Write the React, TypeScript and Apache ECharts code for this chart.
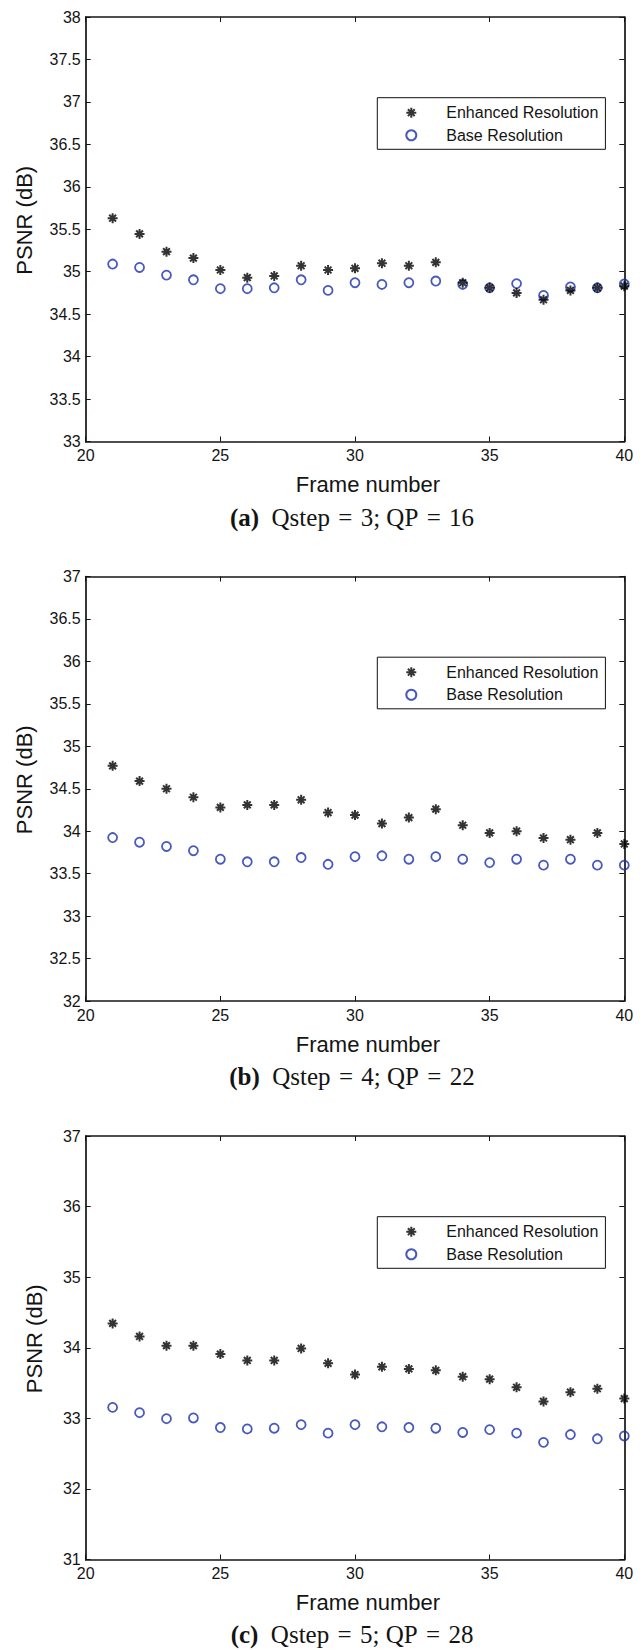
import React, { useEffect, useRef } from "react";
import * as echarts from "echarts";

// Frame indices shared by all three panels
const frames = [21, 22, 23, 24, 25, 26, 27, 28, 29, 30, 31, 32, 33, 34, 35, 36, 37, 38, 39, 40];

// (a) Qstep = 3; QP = 16
const enhancedA = [35.63, 35.445, 35.236, 35.16, 35.02, 34.93, 34.95, 35.07, 35.02, 35.04, 35.1, 35.07, 35.11, 34.87, 34.81, 34.75, 34.67, 34.78, 34.81, 34.83];
const baseA = [35.09, 35.05, 34.96, 34.905, 34.8, 34.8, 34.81, 34.905, 34.78, 34.87, 34.85, 34.87, 34.89, 34.85, 34.81, 34.86, 34.72, 34.82, 34.81, 34.855];

// (b) Qstep = 4; QP = 22
const enhancedB = [34.77, 34.59, 34.5, 34.4, 34.28, 34.31, 34.31, 34.37, 34.22, 34.19, 34.09, 34.16, 34.26, 34.07, 33.98, 34.0, 33.92, 33.9, 33.98, 33.85];
const baseB = [33.925, 33.87, 33.82, 33.77, 33.67, 33.64, 33.64, 33.69, 33.61, 33.7, 33.71, 33.67, 33.7, 33.67, 33.63, 33.67, 33.6, 33.67, 33.6, 33.6];

// (c) Qstep = 5; QP = 28
const enhancedC = [34.345, 34.16, 34.03, 34.03, 33.91, 33.82, 33.82, 33.99, 33.78, 33.62, 33.73, 33.7, 33.68, 33.59, 33.555, 33.44, 33.24, 33.37, 33.42, 33.28];
const baseC = [33.155, 33.08, 32.995, 33.005, 32.87, 32.85, 32.86, 32.91, 32.79, 32.91, 32.88, 32.87, 32.86, 32.8, 32.84, 32.79, 32.66, 32.77, 32.71, 32.75];

// Axis ranges per panel: [min, max, step]
const yRangeA = [33, 38, 0.5];
const yRangeB = [32, 37, 0.5];
const yRangeC = [31, 37, 1];
const xRange = [20, 40, 5];

const captionTags = ["(a)", "(b)", "(c)"];
const captionTexts = [
  "Qstep\u2004=\u20043; QP\u2004=\u200416",
  "Qstep\u2004=\u20044; QP\u2004=\u200422",
  "Qstep\u2004=\u20045; QP\u2004=\u200428",
];

const ENH = "Enhanced Resolution";
const BASE = "Base Resolution";
const X_NAME = "Frame number";
const Y_NAME = "PSNR (dB)";

const SANS = "'Liberation Sans', Arial, Helvetica, sans-serif";
const SERIF = "'Liberation Serif', 'Times New Roman', Times, serif";
const INK = "#141414";
const BLUE = "#1a2fae";
const ASTERISK = "path://M5,0L5,10M0,5L10,5M1.6,1.6L8.4,8.4M1.6,8.4L8.4,1.6";

// Layout of the three stacked panels (pixels)
const layout = [
  { top: 17, height: 424.5, yNameGap: 50, caption: 517 },
  { top: 576.5, height: 424.5, yNameGap: 50, caption: 1076 },
  { top: 1136, height: 423.5, yNameGap: 40, caption: 1634 },
];
const GRID_LEFT = 85.7;
const GRID_WIDTH = 538.6;

function buildOption() {
  const panels = [
    { enhanced: enhancedA, base: baseA, y: yRangeA },
    { enhanced: enhancedB, base: baseB, y: yRangeB },
    { enhanced: enhancedC, base: baseC, y: yRangeC },
  ];

  const axisLine = { show: true, lineStyle: { color: INK, width: 1.7 } };
  const axisTick = { show: true, inside: true, length: 5, lineStyle: { color: INK, width: 1 } };

  const grid: any[] = [];
  const xAxis: any[] = [];
  const yAxis: any[] = [];
  const series: any[] = [];
  const legend: any[] = [];
  const graphic: any[] = [];

  panels.forEach((p, i) => {
    const L = layout[i];
    grid.push({
      left: GRID_LEFT,
      width: GRID_WIDTH,
      top: L.top,
      height: L.height,
      containLabel: false,
      outerBoundsMode: "none",
    });

    // bottom x axis with labels and name
    xAxis.push({
      type: "value",
      gridIndex: i,
      position: "bottom",
      min: xRange[0],
      max: xRange[1],
      interval: xRange[2],
      axisLine,
      axisTick,
      splitLine: { show: false },
      axisLabel: { show: true, margin: 6, fontSize: 16, fontFamily: SANS, color: INK },
      name: X_NAME,
      nameLocation: "middle",
      nameGap: 32,
      nameTextStyle: { fontSize: 22, fontFamily: SANS, color: INK, padding: [0, 0, 0, 26] },
    });
    // top x axis: frame + ticks only
    xAxis.push({
      type: "value",
      gridIndex: i,
      position: "top",
      min: xRange[0],
      max: xRange[1],
      interval: xRange[2],
      axisLine,
      axisTick,
      splitLine: { show: false },
      axisLabel: { show: false },
    });

    yAxis.push({
      type: "value",
      gridIndex: i,
      position: "left",
      min: p.y[0],
      max: p.y[1],
      interval: p.y[2],
      axisLine,
      axisTick,
      splitLine: { show: false },
      axisLabel: { show: true, margin: 5, fontSize: 16, fontFamily: SANS, color: INK },
      name: Y_NAME,
      nameLocation: "middle",
      nameRotate: 90,
      nameGap: L.yNameGap,
      nameTextStyle: { fontSize: 22, fontFamily: SANS, color: INK, padding: [0, 0, 0, 18] },
    });
    yAxis.push({
      type: "value",
      gridIndex: i,
      position: "right",
      min: p.y[0],
      max: p.y[1],
      interval: p.y[2],
      axisLine,
      axisTick,
      splitLine: { show: false },
      axisLabel: { show: false },
    });

    series.push({
      name: BASE,
      type: "scatter",
      xAxisIndex: i * 2,
      yAxisIndex: i * 2,
      symbol: "circle",
      symbolSize: 9,
      itemStyle: { color: "rgba(0,0,0,0)", borderColor: BLUE, borderWidth: 1.8 },
      data: frames.map((f, k) => [f, p.base[k]]),
    });
    series.push({
      name: ENH,
      type: "scatter",
      xAxisIndex: i * 2,
      yAxisIndex: i * 2,
      symbol: ASTERISK,
      symbolSize: 10,
      itemStyle: { color: "rgba(0,0,0,0)", borderColor: "#000", borderWidth: 2 },
      data: frames.map((f, k) => [f, p.enhanced[k]]),
    });

    legend.push({
      show: true,
      orient: "vertical",
      left: 377.3,
      top: L.top + 80.7,
      data: [ENH, BASE],
      selectedMode: false,
      itemWidth: 50,
      itemHeight: 10,
      itemGap: 6.6,
      padding: [7, 7, 6, 28],
      borderColor: "#111",
      borderWidth: 1,
      backgroundColor: "#fff",
      textStyle: { fontSize: 16, fontFamily: SANS, color: INK, padding: [0, 0, 0, 5] },
    });

    graphic.push({
      type: "text",
      x: 352,
      y: L.caption,
      style: {
        text: `{b|${captionTags[i]}}\u00a0\u00a0${captionTexts[i]}`,
        fontSize: 25,
        lineHeight: 26,
        fontFamily: SERIF,
        fill: INK,
        textAlign: "center",
        textVerticalAlign: "middle",
        align: "center",
        verticalAlign: "middle",
        rich: {
          b: { fontSize: 25, lineHeight: 26, fontFamily: SERIF, fontWeight: "bold", fill: INK },
        },
      },
    });
  });

  return {
    animation: false,
    backgroundColor: "#ffffff",
    grid,
    xAxis,
    yAxis,
    series,
    legend,
    graphic,
  };
}

export default function App() {
  const ref = useRef<HTMLDivElement>(null);
  useEffect(() => {
    if (!ref.current) return;
    const chart = echarts.init(ref.current, null, { renderer: "svg" });
    chart.setOption(buildOption());
    return () => chart.dispose();
  }, []);
  return (
    <div
      ref={ref}
      style={{ position: "absolute", left: 0, top: 0, width: 644, height: 1650, background: "#fff" }}
    />
  );
}
